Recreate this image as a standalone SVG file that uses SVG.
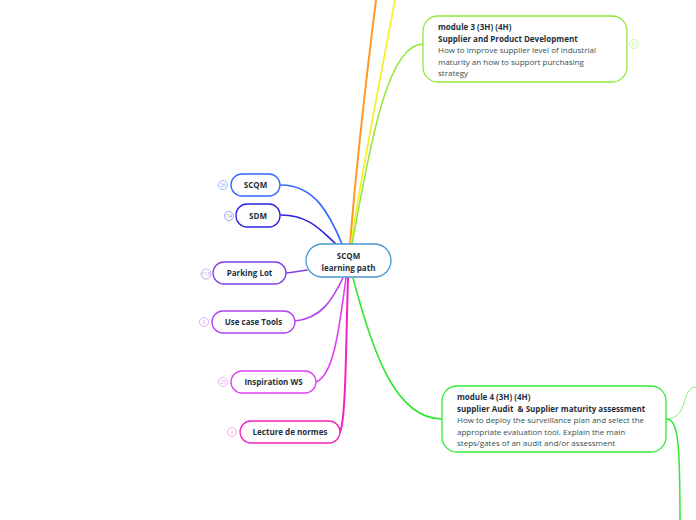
<svg xmlns="http://www.w3.org/2000/svg" width="696" height="520" viewBox="0 0 696 520">
<style>
.node{fill:#ffffff;stroke-width:1.3}
.lbl{font-family:"Open Sans","Noto Sans",sans-serif;font-weight:bold;font-size:8px;fill:#1e3040;text-anchor:middle}
.t{font-family:"Open Sans","Noto Sans",sans-serif;font-size:8px;fill:#345252}
.tb{font-family:"Open Sans","Noto Sans",sans-serif;font-size:8px;font-weight:bold;fill:#1e3040}
.badge{fill:#ffffff;stroke-width:0.8}
.bt{font-family:"Open Sans","Noto Sans",sans-serif;font-size:5px;text-anchor:middle}
.c{fill:none;stroke-linecap:round}
</style>
<rect width="696" height="520" fill="#ffffff"/>
<g id="connectors">
<path class="c" d="M350,244 C356,170 366,80 376,0" stroke="#ff9922" stroke-width="2"/>
<path class="c" d="M351,244 C362,170 380,80 395,0" stroke="#f2f224" stroke-width="1.7"/>
<path class="c" d="M352,244 C368,160 385,44 423,44" stroke="#8fe83a" stroke-width="1.5"/>
<path class="c" d="M281,185 C315,185 330,215 342,244" stroke="#3366ff" stroke-width="1.6"/>
<path class="c" d="M281,215 C310,215 322,232 336,244" stroke="#2a20e0" stroke-width="1.6"/>
<path class="c" d="M286,273 C295,272 300,271 307,270" stroke="#8040e8" stroke-width="1.6"/>
<path class="c" d="M295,321 C322,318 332,300 343,278" stroke="#b040f0" stroke-width="1.6"/>
<path class="c" d="M316,382 C335,375 340,320 346,278" stroke="#e040f0" stroke-width="1.6"/>
<path class="c" d="M340,432 C346,420 346,340 348,278" stroke="#f520c0" stroke-width="2"/>
<path class="c" d="M353,278 C372,350 395,419 442,419" stroke="#33e833" stroke-width="1.6"/>
<path class="c" d="M666,419 C690,419 680,387 696,387" stroke="#66ee66" stroke-width="0.8"/>
<path class="c" d="M666,419 C678,419 680,440 680,520" stroke="#33e833" stroke-width="1.5"/>
</g>
<g id="center">
<rect class="node" x="306" y="244" width="85" height="33" rx="16.5" stroke="#4a98d0"/>
<text class="lbl" x="348.5" y="258.5" font-size="8.5">SCQM</text>
<text class="lbl" x="348.5" y="270.5" font-size="8.5">learning path</text>
</g>
<g id="scqm">
<rect class="node" x="231" y="174" width="49" height="22" rx="11" stroke="#3366ff"/>
<text class="lbl" x="255.5" y="188">SCQM</text>
<circle class="badge" cx="223" cy="185" r="4.5" stroke="#8aa8ff"/>
<text class="bt" x="223" y="186.7" fill="#8aa8ff">26</text>
</g>
<g id="sdm">
<rect class="node" x="236" y="204" width="44" height="23" rx="11" stroke="#2a20e0"/>
<text class="lbl" x="258" y="218.5">SDM</text>
<circle class="badge" cx="229" cy="216" r="4.5" stroke="#8a86f0"/>
<text class="bt" x="229" y="217.7" fill="#8a86f0">14</text>
</g>
<g id="parking">
<rect class="node" x="213" y="262" width="73" height="22" rx="11" stroke="#8040e8"/>
<text class="lbl" x="249.5" y="276">Parking Lot</text>
<circle class="badge" cx="206" cy="274" r="5" stroke="#b898f0"/>
<text class="bt" x="206" y="275.7" fill="#b898f0">115</text>
</g>
<g id="usecase">
<rect class="node" x="212" y="311" width="83" height="22" rx="11" stroke="#b040f0"/>
<text class="lbl" x="253.5" y="325">Use case Tools</text>
<circle class="badge" cx="204" cy="322" r="4.5" stroke="#d898f6"/>
<text class="bt" x="204" y="323.7" fill="#d898f6">6</text>
</g>
<g id="inspiration">
<rect class="node" x="231" y="371" width="85" height="22" rx="11" stroke="#e040f0"/>
<text class="lbl" x="273.5" y="385">Inspiration WS</text>
<circle class="badge" cx="223" cy="382" r="4.5" stroke="#f098f6"/>
<text class="bt" x="223" y="383.7" fill="#f098f6">25</text>
</g>
<g id="lecture">
<rect class="node" x="240" y="421" width="100" height="22" rx="11" stroke="#f520c0"/>
<text class="lbl" x="290" y="435">Lecture de normes</text>
<circle class="badge" cx="232" cy="432" r="4.5" stroke="#f898de"/>
<text class="bt" x="232" y="433.7" fill="#f898de">2</text>
</g>
<g id="module3">
<rect class="node" x="423" y="16" width="204" height="66" rx="15" stroke="#8fe83a"/>
<text class="tb" x="438" y="30">module 3 (3H) (4H)</text>
<text class="tb" x="438" y="41.5">Supplier and Product Development</text>
<text class="t" x="438" y="53">How to improve supplier level of industrial</text>
<text class="t" x="438" y="64.5">maturity an how to support purchasing</text>
<text class="t" x="438" y="76">strategy</text>
<circle class="badge" cx="634" cy="44" r="4.5" stroke="#c4f098"/>
<text class="bt" x="634" y="45.7" fill="#c4f098">42</text>
</g>
<g id="module4">
<rect class="node" x="442" y="386" width="224" height="66" rx="15" stroke="#33e833"/>
<text class="tb" x="457" y="400">module 4 (3H) (4H)</text>
<text class="tb" x="457" y="411.5" style="white-space:pre">supplier Audit  &amp; Supplier maturity assessment</text>
<text class="t" x="457" y="423">How to deploy the surveillance plan and select the</text>
<text class="t" x="457" y="434.5">appropriate evaluation tool. Explain the main</text>
<text class="t" x="457" y="446">steps/gates of an audit and/or assessment</text>
</g>
</svg>
